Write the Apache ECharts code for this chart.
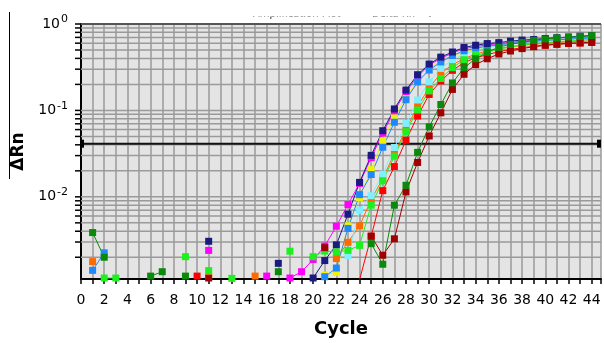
<!DOCTYPE html>
<html><head><meta charset="utf-8">
<script src="https://cdn.jsdelivr.net/npm/echarts@6/dist/echarts.min.js"></script>
<style>html,body{margin:0;padding:0;background:#fff}#c{width:604px;height:343px}</style>
</head><body><div id="c"></div>
<script>
const cycles = [1,2,3,4,5,6,7,8,9,10,11,12,13,14,15,16,17,18,19,20,21,22,23,24,25,26,27,28,29,30,31,32,33,34,35,36,37,38,39,40,41,42,43,44];
const xTickLabels = ['0','2','4','6','8','10','12','14','16','18','20','22','24','26','28','30','32','34','36','38','40','42','44'];
const yTickLabels = {'1':'0','0.1':'-1','0.01':'-2'};
const gridValues = [0.002,0.003,0.004,0.005,0.006,0.007,0.008,0.009,0.01,0.02,0.03,0.04,0.05,0.06,0.07,0.08,0.09,0.1,0.2,0.3,0.4,0.5,0.6,0.7,0.8,0.9,1];
const threshold = 0.0412;

const navy = [null,null,null,null,null,null,null,null,null,null,
  0.00306,null,null,null,null,null,0.00170,null,null,0.00115,
  0.00183,0.00278,0.00629,0.0147,0.0302,0.0582,0.104,0.172,0.259,0.344,
  0.414,0.474,0.535,0.568,0.594,0.609,0.634,0.651,0.662,0.680,
  0.692,0.703,0.721,0.734];
const magenta = [null,null,null,null,null,null,null,null,null,null,
  0.00240,null,null,null,null,0.00121,null,0.00115,0.00136,0.00188,
  0.00269,0.00457,0.00814,0.0143,0.0284,0.0546,0.0988,0.165,0.246,0.335,
  0.401,0.462,0.519,0.546,0.575,0.590,0.613,0.629,0.646,0.654,
  0.662,0.671,0.689,0.698];
const yellow = [null,null,null,null,null,null,null,null,null,null,
  0.00121,null,null,null,null,null,null,null,null,null,
  0.00124,0.00134,0.00462,0.00975,0.0206,0.0444,0.0846,0.142,0.219,0.306,
  0.376,0.428,0.474,0.512,0.539,0.568,0.590,0.613,0.629,0.646,
  0.654,0.662,0.671,0.680];
const blue = [0.00141,0.00225,null,null,null,null,null,null,null,null,
  null,null,null,null,null,null,null,null,null,null,
  0.00119,0.00150,0.00431,0.0106,0.0181,0.0375,0.0730,0.133,0.214,0.293,
  0.364,0.432,0.490,0.526,0.553,0.575,0.598,0.613,0.629,0.646,
  0.657,0.668,0.680,0.689];
const cyan = [null,null,null,null,null,null,null,null,null,null,
  null,null,null,null,null,null,null,null,null,null,
  null,null,0.00208,0.00703,0.0103,0.0183,0.0372,0.0707,0.132,0.214,
  0.306,0.386,0.450,0.499,0.532,0.561,0.590,0.613,0.629,0.646,
  0.662,0.671,0.680,0.689];
const orange = [0.00178,null,null,null,null,null,null,null,null,null,
  null,null,null,null,0.00121,null,null,null,null,null,
  null,0.00193,0.00298,0.00462,0.00926,0.0163,0.0318,0.0605,0.112,0.183,
  0.269,0.339,0.396,0.450,0.487,0.519,0.546,0.568,0.583,0.598,
  0.613,0.621,0.629,0.637];
const lime = [null,0.00115,0.00115,null,null,null,null,null,0.00203,null,
  0.00140,null,0.00114,null,null,null,null,0.00235,null,0.00203,
  0.00235,0.00231,0.00240,0.00274,0.00800,0.0153,0.0295,0.0568,0.101,0.168,
  0.234,0.312,0.386,0.431,0.471,0.512,0.543,0.568,0.593,0.609,
  0.624,0.634,0.651,0.662];
const red = [null,null,null,null,null,null,null,null,null,0.00121,
  null,null,null,null,null,null,null,null,null,null,
  null,null,null,0.00110,0.00348,0.0118,0.0224,0.0451,0.0861,0.153,
  0.219,0.291,0.357,0.406,0.442,0.478,0.508,0.530,0.553,0.568,
  0.583,0.594,0.602,0.613];
const darkGreen = [0.00386,0.00200,null,null,null,0.00121,0.00136,null,0.00121,null,
  null,null,null,null,null,null,0.00136,null,null,null,
  null,null,null,null,0.00287,0.00166,0.00800,0.0136,0.0327,0.0647,
  0.117,0.208,0.312,0.396,0.474,0.539,0.583,0.613,0.646,0.671,
  0.689,0.707,0.716,0.734];
const darkRed = [null,null,null,null,null,null,null,null,null,null,
  0.00115,null,null,null,null,null,null,null,null,null,
  0.00258,null,null,null,0.00352,0.00211,0.00327,0.0114,0.0250,0.0506,
  0.0938,0.175,0.262,0.339,0.396,0.450,0.487,0.519,0.546,0.568,
  0.583,0.598,0.605,0.613];

const seriesDefs = [
  ['Yellow', yellow, '#f2f200'],
  ['Magenta', magenta, '#ff00ff'],
  ['Orange', orange, '#ff6a00'],
  ['Cyan', cyan, '#7ff0ff'],
  ['Blue', blue, '#1e88ff'],
  ['Navy', navy, '#1a1a80'],
  ['Red', red, '#ff0000'],
  ['Lime', lime, '#1ef01e'],
  ['DarkRed', darkRed, '#a00000'],
  ['DarkGreen', darkGreen, '#0a8a0a']
];

const X_MIN = 0, X_MAX = 44.8;
const FONT = 'DejaVu Sans';

const chart = echarts.init(document.getElementById('c'), null, {renderer: 'canvas'});

const lineSeries = seriesDefs.map(([name, arr, color]) => ({
  name, type: 'line',
  data: cycles.map((c, i) => [c, arr[i]]),
  symbol: 'rect', symbolSize: 7, showAllSymbol: true,
  lineStyle: {width: 1, color},
  itemStyle: {color},
  clip: true, z: 3, animation: false, silent: true
}));

const gridSeries = {
  type: 'custom', z: 1, silent: true, animation: false,
  data: gridValues.map(v => [X_MIN, v]),
  encode: {x: 0, y: 1},
  renderItem: (params, api) => {
    const v = api.value(1);
    const a = api.coord([X_MIN, v]);
    const b = api.coord([X_MAX, v]);
    const top = Math.abs(v - 1) < 1e-9;
    return {type: 'group', children: [
      {type: 'line', shape: {x1: a[0], y1: a[1], x2: b[0], y2: b[1]},
       style: {stroke: top ? '#555' : '#9a9a9a', lineWidth: top ? 2 : 1.5}},
      {type: 'line', shape: {x1: a[0] - 6, y1: a[1], x2: a[0], y2: a[1]},
       style: {stroke: '#000', lineWidth: 1.5}}
    ]};
  }
};

const thresholdSeries = {
  type: 'custom', z: 2, silent: true, animation: false,
  data: [[X_MIN, threshold]],
  encode: {x: 0, y: 1},
  renderItem: (params, api) => {
    const v = api.value(1);
    const a = api.coord([X_MIN, v]);
    const b = api.coord([X_MAX, v]);
    return {type: 'group', children: [
      {type: 'line', shape: {x1: a[0], y1: a[1], x2: b[0], y2: b[1]}, style: {stroke: '#111', lineWidth: 2}},
      {type: 'rect', shape: {x: a[0] - 1, y: a[1] - 4, width: 4, height: 8}, style: {fill: '#000'}},
      {type: 'rect', shape: {x: b[0] - 4, y: a[1] - 4, width: 4, height: 8}, style: {fill: '#000'}}
    ]};
  }
};

chart.setOption({
  animation: false,
  backgroundColor: '#fff',
  grid: {left: 81, top: 24, right: 1, bottom: 55, show: true, backgroundColor: '#e4e4e4', borderWidth: 0},
  xAxis: {
    type: 'value', min: X_MIN, max: X_MAX, interval: 1,
    axisLine: {show: true, lineStyle: {color: '#000', width: 2}},
    axisTick: {show: true, length: 5, lineStyle: {color: '#000', width: 1.5}},
    splitLine: {show: true, lineStyle: {color: '#9a9a9a', width: 1.5}},
    axisLabel: {
      formatter: v => xTickLabels.indexOf(String(v)) >= 0 ? String(v) : '',
      fontFamily: FONT, fontSize: 14, color: '#000', margin: 14
    },
    name: 'Cycle', nameLocation: 'middle', nameGap: 41,
    nameTextStyle: {fontFamily: FONT, fontWeight: 'bold', fontSize: 18, color: '#000'}
  },
  yAxis: {
    type: 'log', logBase: 10, min: 0.00112, max: 1,
    axisLine: {show: true, lineStyle: {color: '#000', width: 2}},
    axisTick: {show: false},
    splitLine: {show: false},
    axisLabel: {
      margin: 13,
      formatter: v => {
        const key = String(Number(v.toPrecision(6)));
        return yTickLabels[key] !== undefined ? '{b|10}{s|' + yTickLabels[key] + '}' : '';
      },
      rich: {
        b: {fontFamily: FONT, fontSize: 14, color: '#000', lineHeight: 14, verticalAlign: 'middle'},
        s: {fontFamily: FONT, fontSize: 11, color: '#000', lineHeight: 11, verticalAlign: 'middle', padding: [0, 0, 9, 1]}
      }
    },
    name: 'ΔRn', nameLocation: 'middle', nameRotate: 90, nameGap: 54,
    nameTextStyle: {fontFamily: FONT, fontWeight: 'bold', fontSize: 17, color: '#000'}
  },
  graphic: [
    {type: 'line', shape: {x1: 9.5, y1: 12, x2: 9.5, y2: 179}, style: {stroke: '#000', lineWidth: 1}, z: 10},
    {type: 'text', x: 253, y: 19, style: {text: 'Amplification Plot', font: '10px DejaVu Sans', fill: '#222', verticalAlign: 'bottom'}, z: 10},
    {type: 'text', x: 372, y: 19, style: {text: 'Delta Rn', font: '10px DejaVu Sans', fill: '#222', verticalAlign: 'bottom'}, z: 10},
    {type: 'text', x: 427, y: 19, style: {text: 'v', font: '10px DejaVu Sans', fill: '#222', verticalAlign: 'bottom'}, z: 10},
    {type: 'rect', shape: {x: 240, y: 0, width: 210, height: 16.5}, style: {fill: '#ffffff'}, z: 11}
  ],
  series: [gridSeries, thresholdSeries].concat(lineSeries)
});
</script></body></html>
